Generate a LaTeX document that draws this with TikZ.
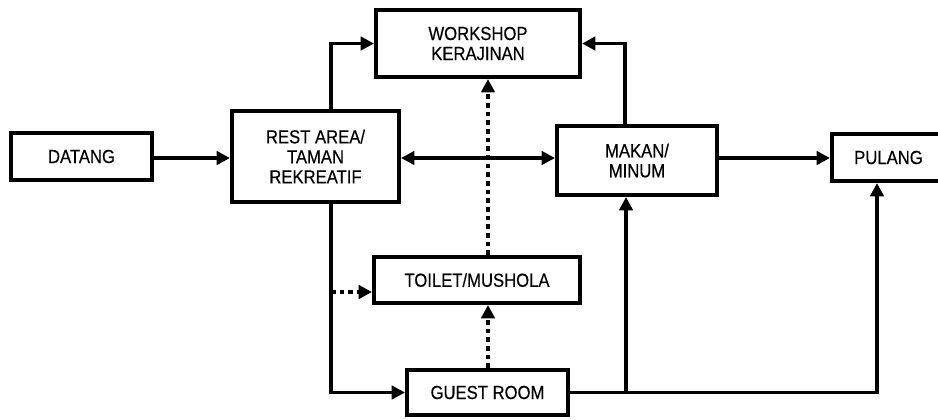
\documentclass[tikz,border=0pt]{standalone}
\usepackage{fontspec}
\setmainfont{Liberation Sans}[FakeStretch=0.88,FakeBold=0.4]
\usetikzlibrary{arrows.meta}
\begin{document}
\begin{tikzpicture}[x=0.75pt,y=-0.75pt,
  box/.style={draw=black,line width=3pt,inner sep=0pt,align=center,
    font=\fontsize{14.2}{15}\selectfont},
  tip/.style={Triangle[length=10pt,width=10pt]},
  arr/.style={line width=2.8pt,-{Triangle[length=10pt,width=10pt]}},
  dbl/.style={line width=2.8pt,{Triangle[length=10pt,width=10pt]}-{Triangle[length=10pt,width=10pt]}},
  dotarr/.style={line width=3pt,dash pattern=on 3.5pt off 3pt,-{Triangle[length=10pt,width=10pt]}}]
\useasboundingbox (0,0) rectangle (938,419);

% boxes
\node[box,minimum width=105.75pt,minimum height=35.25pt] (datang) at (81.5,156.5) {DATANG};
\node[box,minimum width=125.25pt,minimum height=68.25pt] (rest) at (315.5,156.5) {REST AREA/\\TAMAN\\REKREATIF};
\node[box,minimum width=153pt,minimum height=50.25pt] (workshop) at (478,43.5) {WORKSHOP\\KERAJINAN};
\node[box,minimum width=120pt,minimum height=51.75pt] (makan) at (637,160.5) {MAKAN/\\MINUM};
\node[box,minimum width=84.75pt,minimum height=35.25pt] (pulang) at (888.5,157.5) {PULANG};
\node[box,minimum width=154.5pt,minimum height=34.5pt] (toilet) at (477,280) {TOILET/MUSHOLA};
\node[box,minimum width=120.75pt,minimum height=33.75pt] (guest) at (487.5,392.5) {GUEST ROOM};

% guide coordinates for the routed lines
\coordinate (cl) at (331,0);
\coordinate (cr) at (625,0);
\coordinate (cm) at (488,0);
\coordinate (cp) at (877,0);
\coordinate (row) at (0,158);
\coordinate (rt) at (0,292);
\coordinate (j) at (626,392.5);

% connectors
\draw[arr] (datang.east |- row) -- (rest.west |- row);
\draw[dbl] (rest.east |- row) -- (makan.west |- row);
\draw[arr] (makan.east |- row) -- (pulang.west |- row);
\draw[arr] (rest.north -| cl) |- (workshop.west);
\draw[arr] (makan.north -| cr) |- (workshop.east);
\draw[arr] (rest.south -| cl) |- (guest.west);
\draw[dotarr] (cl |- rt) -- (toilet.west |- rt);
\draw[dotarr] (toilet.north -| cm) -- (workshop.south -| cm);
\draw[dotarr] (guest.north -| cm) -- (toilet.south -| cm);
\draw[arr] (guest.east) -| (pulang.south -| cp);
\draw[arr] (j) -- (makan.south -| j);
\end{tikzpicture}
\end{document}
